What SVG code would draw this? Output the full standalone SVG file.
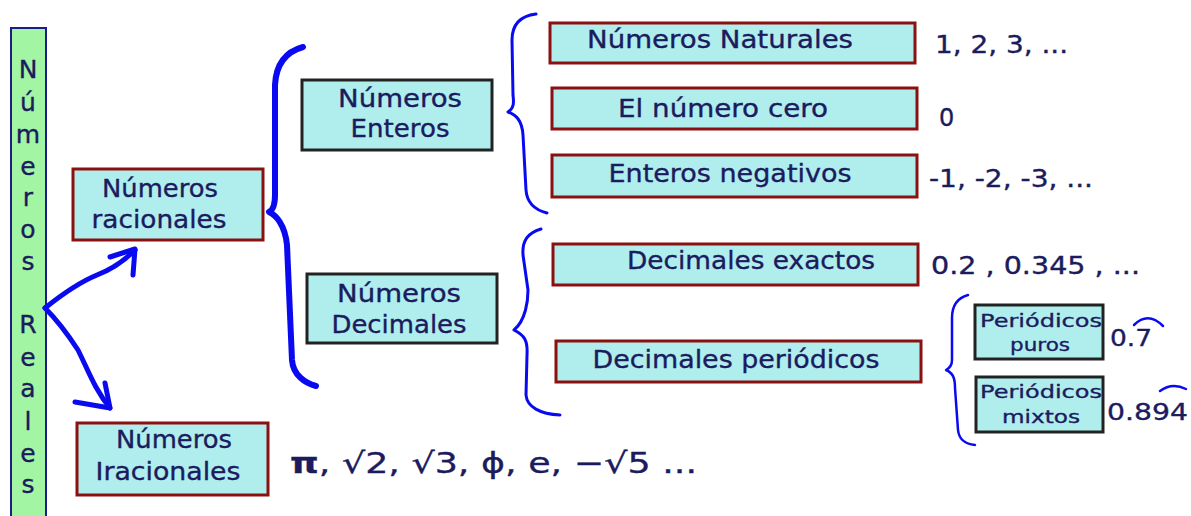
<svg xmlns="http://www.w3.org/2000/svg" width="1191" height="516" viewBox="0 0 1191 516">
<style>
  text { font-family: "DejaVu Sans", "Liberation Sans", sans-serif; fill: #1b1b5e; stroke: #1b1b5e; stroke-width: 0.35; }
  .lbl { font-size: 24px; text-anchor: middle; }
  .sm { font-size: 18px; text-anchor: middle; }
  .val { font-size: 24px; }
  .vbar { font-size: 25px; text-anchor: middle; }
  .red { fill: #b0eeee; stroke: #8b1010; stroke-width: 3; }
  .blk { fill: #b0eeee; stroke: #222222; stroke-width: 3; }
  .arrow { fill: none; stroke: #0a0af0; stroke-width: 5; stroke-linecap: round; stroke-linejoin: round; }
  .brace { fill: none; stroke: #0a0af0; stroke-linecap: round; stroke-linejoin: round; }
</style>
<rect width="1191" height="516" fill="#ffffff"/>

<g id="numeros-reales">
  <rect x="11" y="28" width="35" height="500" fill="#a2f5a2" stroke="#1c1c8c" stroke-width="2"/>
  <text class="vbar" x="28" y="78">N</text>
  <text class="vbar" x="28" y="111">ú</text>
  <text class="vbar" x="28" y="143">m</text>
  <text class="vbar" x="28" y="175">e</text>
  <text class="vbar" x="28" y="206">r</text>
  <text class="vbar" x="28" y="238">o</text>
  <text class="vbar" x="28" y="270">s</text>
  <text class="vbar" x="28" y="333">R</text>
  <text class="vbar" x="28" y="366">e</text>
  <text class="vbar" x="28" y="397">a</text>
  <text class="vbar" x="28" y="430">l</text>
  <text class="vbar" x="28" y="462">e</text>
  <text class="vbar" x="28" y="493">s</text>
</g>

<g id="racionales">
  <rect class="red" x="73" y="169" width="190" height="71"/>
  <text class="lbl" x="160" y="197" textLength="116" lengthAdjust="spacingAndGlyphs">Números</text>
  <text class="lbl" x="159" y="228" textLength="135" lengthAdjust="spacingAndGlyphs">racionales</text>
</g>

<g id="irracionales">
  <rect class="red" x="77" y="423" width="191" height="72"/>
  <text class="lbl" x="174" y="448" textLength="116" lengthAdjust="spacingAndGlyphs">Números</text>
  <text class="lbl" x="168" y="480" textLength="145" lengthAdjust="spacingAndGlyphs">Iracionales</text>
  <text x="290" y="473" font-size="29" textLength="407" lengthAdjust="spacingAndGlyphs"><tspan font-weight="bold">π</tspan>, √2, √3, ϕ, e, −√5 ...</text>
</g>

<g id="enteros">
  <rect class="blk" x="302" y="80" width="190" height="70"/>
  <text class="lbl" x="400" y="107" textLength="124" lengthAdjust="spacingAndGlyphs">Números</text>
  <text class="lbl" x="400" y="137" textLength="99" lengthAdjust="spacingAndGlyphs">Enteros</text>
</g>

<g id="decimales">
  <rect class="blk" x="307" y="274" width="190" height="69"/>
  <text class="lbl" x="399" y="302" textLength="124" lengthAdjust="spacingAndGlyphs">Números</text>
  <text class="lbl" x="399" y="333" textLength="135" lengthAdjust="spacingAndGlyphs">Decimales</text>
</g>

<g id="naturales">
  <rect class="red" x="550" y="23" width="365" height="40"/>
  <text class="lbl" x="720" y="48" textLength="266" lengthAdjust="spacingAndGlyphs">Números Naturales</text>
  <text class="val" x="935" y="53" textLength="133" lengthAdjust="spacingAndGlyphs">1, 2, 3, ...</text>
</g>

<g id="cero">
  <rect class="red" x="552" y="88" width="365" height="41"/>
  <text class="lbl" x="723" y="117" textLength="210" lengthAdjust="spacingAndGlyphs">El número cero</text>
  <text class="val" x="939" y="126">0</text>
</g>

<g id="negativos">
  <rect class="red" x="552" y="155" width="365" height="42"/>
  <text class="lbl" x="730" y="182" textLength="243" lengthAdjust="spacingAndGlyphs">Enteros negativos</text>
  <text class="val" x="929" y="187" textLength="164" lengthAdjust="spacingAndGlyphs">-1, -2, -3, ...</text>
</g>

<g id="exactos">
  <rect class="red" x="553" y="244" width="365" height="41"/>
  <text class="lbl" x="751" y="269" textLength="248" lengthAdjust="spacingAndGlyphs">Decimales exactos</text>
  <text class="val" x="931" y="274" textLength="209" lengthAdjust="spacingAndGlyphs">0.2 , 0.345 , ...</text>
</g>

<g id="periodicos">
  <rect class="red" x="556" y="341" width="365" height="41"/>
  <text class="lbl" x="736" y="368" textLength="287" lengthAdjust="spacingAndGlyphs">Decimales periódicos</text>
</g>

<g id="puros">
  <rect class="blk" x="975" y="305" width="128" height="54" stroke-width="2.5"/>
  <text class="sm" x="1041" y="327" textLength="122" lengthAdjust="spacingAndGlyphs">Periódicos</text>
  <text class="sm" x="1040" y="351" textLength="60" lengthAdjust="spacingAndGlyphs">puros</text>
  <text x="1110" y="346" font-size="23" textLength="42" lengthAdjust="spacingAndGlyphs">0.7</text>
</g>

<g id="mixtos">
  <rect class="blk" x="976" y="377" width="127" height="55" stroke-width="2.5"/>
  <text class="sm" x="1041" y="398" textLength="122" lengthAdjust="spacingAndGlyphs">Periódicos</text>
  <text class="sm" x="1041" y="423" textLength="78" lengthAdjust="spacingAndGlyphs">mixtos</text>
  <text x="1107" y="420" font-size="23" textLength="81" lengthAdjust="spacingAndGlyphs">0.894</text>
</g>

<g id="connectors">
  <path class="arrow" d="M45,308 C65,292 80,282 97,275 C115,268 125,260 135,250"/>
  <path class="arrow" d="M110,257 L135,249 L133,275"/>
  <path class="arrow" d="M45,308 C55,318 65,330 78,350 C88,370 95,390 110,408"/>
  <path class="arrow" d="M75,402 L110,408 L105,383"/>
  <path class="brace" stroke-width="6" d="M303,47 C285,52 276,65 275,85 L275,195 C275,205 273,210 269,212 C276,215 285,225 287,245 L292,360 C293,375 305,383 316,386"/>
  <path class="brace" stroke-width="3" d="M536,14 C520,16 512,25 512,40 L513,95 C514,103 514,108 508,112 C516,115 522,120 523,135 L526,190 C527,203 535,210 547,213"/>
  <path class="brace" stroke-width="3" d="M541,229 C528,233 522,240 523,255 L528,290 C528,300 526,320 514,330 C524,335 528,340 527,355 L526,395 C527,407 540,414 560,415"/>
  <path class="brace" stroke-width="2.5" d="M968,295 C957,298 952,305 952,318 L952,360 C952,365 950,368 946,370 C953,373 955,378 955,388 L958,430 C959,440 965,444 975,445"/>
  <path class="brace" stroke-width="2.5" d="M1134,325 Q1148,311 1163,326"/>
  <path class="brace" stroke-width="2.5" d="M1160,391 Q1172,382 1186,389"/>
</g>
</svg>
